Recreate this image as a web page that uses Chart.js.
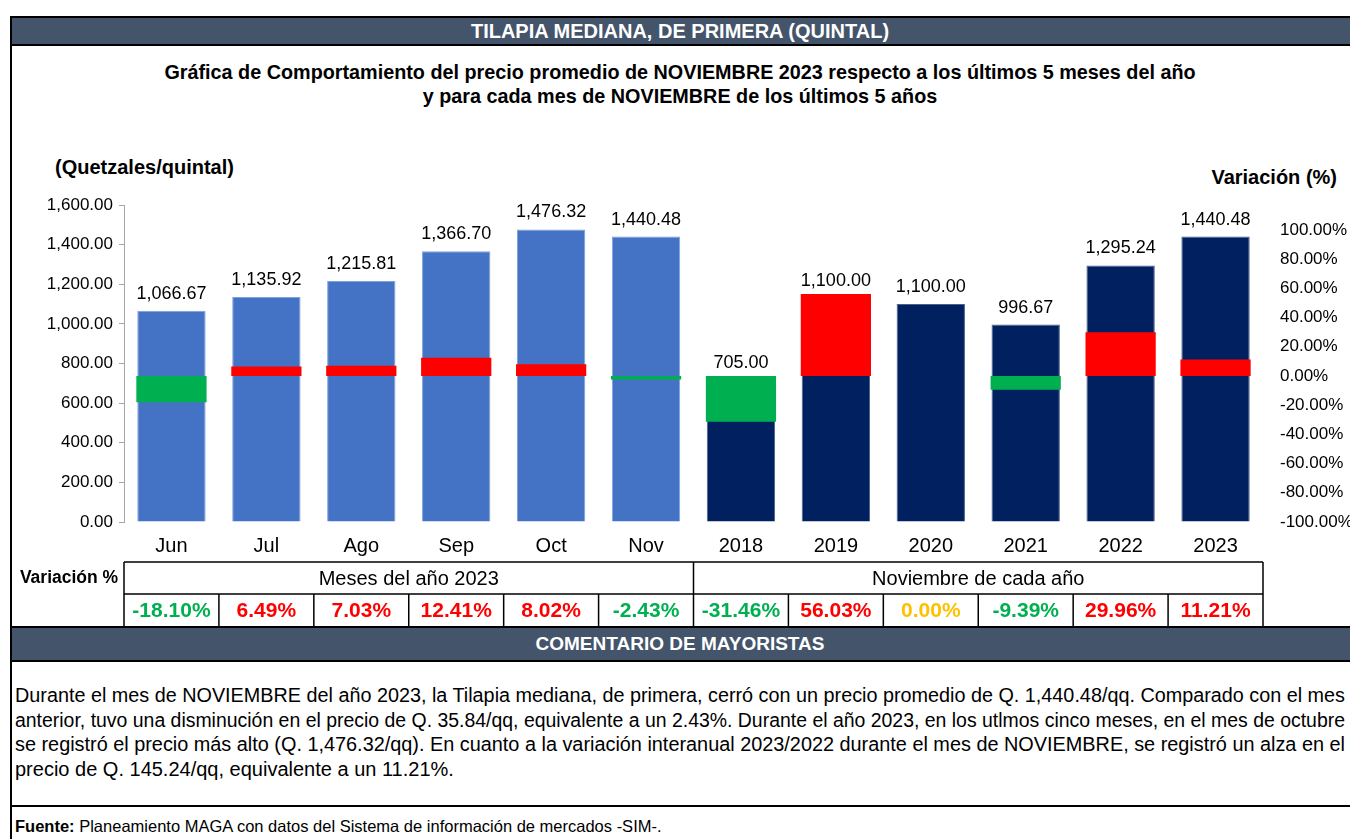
<!DOCTYPE html>
<html lang="es">
<head>
<meta charset="utf-8">
<title>Tilapia mediana, de primera (quintal)</title>
<script src="https://cdn.jsdelivr.net/npm/chart.js@4.4.0/dist/chart.umd.min.js"></script>
<style>
  html, body { margin: 0; padding: 0; background: #fff; }
  body {
    width: 1350px; height: 839px; position: relative; overflow: hidden;
    font-family: "Liberation Sans", Arial, sans-serif; color: #000;
  }
  .band {
    position: absolute; left: 10px; right: 0;
    background: #44546A; color: #fff; font-weight: bold; text-align: center;
    border-top: 2px solid #000; border-bottom: 2px solid #000;
  }
  #titulo { top: 16px; height: 26px; line-height: 26px; font-size: 20px; }
  #comentarioTitulo { top: 626px; height: 32px; line-height: 32px; font-size: 19px; }
  #subtitulo {
    position: absolute; left: 10px; right: 0; top: 60px;
    text-align: center; font-weight: bold; font-size: 19.8px; line-height: 24px;
  }
  .unidad { position: absolute; font-weight: bold; font-size: 20px; }
  #unidadIzq { left: 55px; top: 156px; }
  #unidadDer { right: 13px; top: 166px; }
  #grafica { position: absolute; left: 0; top: 150px; }
  #comentario {
    position: absolute; left: 15px; top: 683px; width: 1330px;
    font-size: 20px; line-height: 24.7px;
  }
  #comentario div { white-space: nowrap; }
  #fuente {
    position: absolute; left: 10px; right: 0; top: 805px; height: 40px;
    border-top: 2px solid #000; font-size: 16.5px; line-height: 38px; padding-left: 5px;
  }
  #marco { position: absolute; left: 10px; top: 16px; bottom: 0; border-left: 2px solid #000; }
</style>
</head>
<body>
<div id="titulo" class="band">TILAPIA MEDIANA, DE PRIMERA (QUINTAL)</div>
<div id="subtitulo">Gráfica de Comportamiento del precio promedio de NOVIEMBRE 2023 respecto a los últimos 5 meses del año<br>y para cada mes de NOVIEMBRE de los últimos 5 años</div>
<div id="unidadIzq" class="unidad">(Quetzales/quintal)</div>
<div id="unidadDer" class="unidad">Variación (%)</div>
<canvas id="grafica" width="1350" height="480"></canvas>
<div id="comentarioTitulo" class="band">COMENTARIO DE MAYORISTAS</div>
<div id="comentario">
  <div class="llena"><span>Durante el mes de NOVIEMBRE del año 2023, la Tilapia mediana, de primera, cerró con un precio promedio de Q. 1,440.48/qq. Comparado con el mes</span></div>
  <div class="llena"><span>anterior, tuvo una disminución en el precio de Q. 35.84/qq, equivalente a un 2.43%. Durante el año 2023, en los utlmos cinco meses, en el mes de octubre</span></div>
  <div class="llena"><span>se registró el precio más alto (Q. 1,476.32/qq). En cuanto a la variación interanual 2023/2022 durante el mes de NOVIEMBRE, se registró un alza en el</span></div>
  <div><span>precio de Q. 145.24/qq, equivalente a un 11.21%.</span></div>
</div>
<div id="fuente"><b>Fuente:</b> Planeamiento MAGA con datos del Sistema de información de mercados -SIM-.</div>
<div id="marco"></div>

<script>
const categorias = ["Jun", "Jul", "Ago", "Sep", "Oct", "Nov", "2018", "2019", "2020", "2021", "2022", "2023"];
const precios = [1066.67, 1135.92, 1215.81, 1366.70, 1476.32, 1440.48, 705.00, 1100.00, 1100.00, 996.67, 1295.24, 1440.48];
const variaciones = [-18.10, 6.49, 7.03, 12.41, 8.02, -2.43, -31.46, 56.03, 0.00, -9.39, 29.96, 11.21];
const grupos = ["Meses del año 2023", "Noviembre de cada año"];
const mesesEnGrupo = 6;
const ticksPrecio = [0, 200, 400, 600, 800, 1000, 1200, 1400, 1600];
const ticksVariacion = [-1, -0.8, -0.6, -0.4, -0.2, 0, 0.2, 0.4, 0.6, 0.8, 1];

const FUENTE = '"Liberation Sans", Arial, sans-serif';

function formatoMiles(v) {
  const partes = v.toFixed(2).split(".");
  partes[0] = partes[0].replace(/\B(?=(\d{3})+(?!\d))/g, ",");
  return partes.join(".");
}

function colorVariacion(v) {
  if (v > 0) return "#FF0000";
  if (v < 0) return "#00B050";
  return "#FFC000";
}

// etiquetas de precio sobre las barras y tabla de variaciones bajo el eje
const etiquetasYTabla = {
  id: "etiquetasYTabla",
  afterDraw(chart) {
    const { ctx, chartArea, scales } = chart;
    const x = scales.x, yP = scales.yPrecio, yV = scales.yVar;
    ctx.save();

    ctx.font = "18px " + FUENTE;
    ctx.fillStyle = "#000";
    ctx.textAlign = "center";
    ctx.textBaseline = "middle";
    precios.forEach((p, i) => {
      const cx = x.getPixelForValue(i);
      const topPrecio = yP.getPixelForValue(p);
      const topVar = yV.getPixelForValue(Math.max(variaciones[i], 0) / 100);
      const top = Math.min(topPrecio, topVar + 4);
      ctx.fillText(formatoMiles(p), cx, top - 17);
    });

    const mitad = (x.getPixelForValue(1) - x.getPixelForValue(0)) / 2;
    const borde = (i) => x.getPixelForValue(i) - mitad;
    const r0 = chartArea.bottom + 40, r1 = r0 + 32, r2 = r1 + 33;
    const n = categorias.length;

    ctx.strokeStyle = "#000";
    ctx.lineWidth = 1.5;
    ctx.beginPath();
    [r0, r1, r2].forEach((r) => { ctx.moveTo(borde(0), r); ctx.lineTo(borde(n), r); });
    for (let i = 0; i <= n; i++) {
      ctx.moveTo(borde(i), (i % mesesEnGrupo === 0) ? r0 : r1);
      ctx.lineTo(borde(i), r2);
    }
    ctx.stroke();

    ctx.font = "bold 17.5px " + FUENTE;
    ctx.fillText("Variación %", 69, (r0 + r1) / 2);

    ctx.font = "20px " + FUENTE;
    grupos.forEach((g, k) => {
      const a = borde(k * mesesEnGrupo), b = borde((k + 1) * mesesEnGrupo);
      ctx.fillText(g, (a + b) / 2, (r0 + r1) / 2 + 1);
    });

    ctx.font = "bold 21px " + FUENTE;
    variaciones.forEach((v, i) => {
      ctx.fillStyle = colorVariacion(v);
      ctx.fillText(v.toFixed(2) + "%", x.getPixelForValue(i), (r1 + r2) / 2 + 1);
    });
    ctx.restore();
  }
};

const ctx = document.getElementById("grafica").getContext("2d");
new Chart(ctx, {
  type: "bar",
  data: {
    labels: categorias,
    datasets: [
      {
        label: "Variación",
        data: variaciones.map((v) => [0, v / 100]),
        yAxisID: "yVar",
        backgroundColor: variaciones.map(colorVariacion),
        grouped: false,
        categoryPercentage: 1,
        barPercentage: 0.74,
        order: 0,
      },
      {
        label: "Precio",
        data: precios,
        yAxisID: "yPrecio",
        backgroundColor: categorias.map((c, i) => (i < mesesEnGrupo ? "#4472C4" : "#002060")),
        borderColor: categorias.map((c, i) => (i < mesesEnGrupo ? "#7FA0DC" : "#4A5F8A")),
        borderWidth: 1,
        grouped: false,
        categoryPercentage: 1,
        barPercentage: 0.72,
        order: 1,
      },
    ],
  },
  options: {
    responsive: false,
    animation: false,
    layout: { padding: { top: 55, left: 0, right: 0, bottom: 0 } },
    plugins: {
      legend: { display: false },
      tooltip: { enabled: false },
    },
    scales: {
      x: {
        grid: { display: false, drawTicks: false },
        border: { display: false },
        ticks: { color: "#000", font: { family: FUENTE, size: 20 }, padding: 12 },
        afterFit(scale) { scale.height = 108; },
      },
      yPrecio: {
        position: "left",
        min: ticksPrecio[0],
        max: ticksPrecio[ticksPrecio.length - 1],
        afterBuildTicks(scale) { scale.ticks = ticksPrecio.map((v) => ({ value: v })); },
        grid: { drawOnChartArea: false, drawTicks: true, tickLength: 5, color: "#A6A6A6" },
        border: { display: true, color: "#A6A6A6" },
        ticks: {
          color: "#000",
          font: { family: FUENTE, size: 17 },
          padding: 6,
          callback: (v) => formatoMiles(v),
        },
        afterFit(scale) { scale.width = 124; },
      },
      yVar: {
        position: "right",
        min: ticksVariacion[0],
        max: 1.17,
        afterBuildTicks(scale) { scale.ticks = ticksVariacion.map((v) => ({ value: v })); },
        grid: { display: false, drawTicks: false },
        border: { display: false },
        ticks: {
          color: "#000",
          font: { family: FUENTE, size: 17 },
          padding: 17,
          callback: (v) => (Math.abs(v) < 1e-9 ? 0 : v * 100).toFixed(2) + "%",
        },
        afterFit(scale) { scale.width = 87; },
      },
    },
  },
  plugins: [etiquetasYTabla],
});

// ajusta cada línea completa del comentario al ancho del recuadro
document.querySelectorAll("#comentario .llena").forEach((linea) => {
  const span = linea.querySelector("span");
  const ancho = linea.clientWidth;
  const natural = span.getBoundingClientRect().width;
  const espacios = (span.textContent.match(/ /g) || []).length;
  if (natural <= ancho) {
    span.style.wordSpacing = (ancho - natural) / espacios + "px";
  } else {
    span.style.display = "inline-block";
    span.style.transformOrigin = "left center";
    span.style.transform = "scaleX(" + ancho / natural + ")";
  }
});
</script>
</body>
</html>
